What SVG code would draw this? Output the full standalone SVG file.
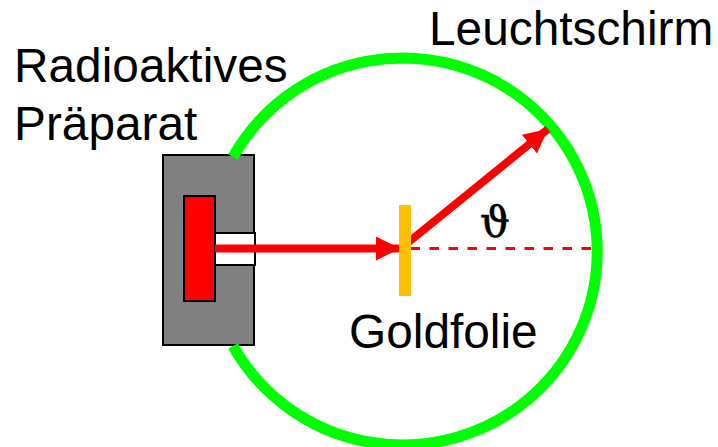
<svg xmlns="http://www.w3.org/2000/svg" width="718" height="447" viewBox="0 0 718 447">
<style>
text{font-family:"Liberation Sans",Arial,sans-serif;font-size:47.800px;fill:#000}
.box{stroke:#000;stroke-width:2}
.ray{stroke:#f00;fill:none;stroke-width:8}
</style>
<defs>
<marker id="ah" markerUnits="userSpaceOnUse" markerWidth="26" markerHeight="26" refX="24" refY="12" orient="auto"><path d="M0 0L24 12L0 24Z" fill="#f00"/></marker>
</defs>
<rect width="718" height="447" fill="#fff"/>
<g id="source">
<rect class="box" x="163" y="155" width="91" height="190" fill="#808080"/>
<rect class="box" x="215" y="233" width="40" height="32" fill="#fff"/>
<rect class="box" x="184" y="196" width="31" height="105" fill="#f00"/>
</g>
<g id="screen"><path d="M233 157A194.500 193.500 0 1 1 233 346" fill="none" stroke="#0f0" stroke-width="11"/></g>
<g id="connectors">
<path class="ray" d="M215 248.500H400" marker-end="url(#ah)"/>
<path class="ray" d="M405 245L548 129" marker-end="url(#ah)"/>
<path d="M410.500 248.500H593" stroke="#f00" stroke-width="3" stroke-dasharray="9.500 9.500" fill="none"/>
</g>
<g id="foil"><rect x="399" y="205" width="12" height="91" fill="#ffc000"/></g>
<g id="labels">
<text x="14" y="82">Radioaktives</text>
<text x="14" y="140">Präparat</text>
<text x="429" y="45">Leuchtschirm</text>
<text x="349" y="348">Goldfolie</text>
<text x="480" y="237" style="font-family:'DejaVu Serif',serif;font-size:42px;stroke:#000;stroke-width:.6">ϑ</text>
</g>
</svg>
